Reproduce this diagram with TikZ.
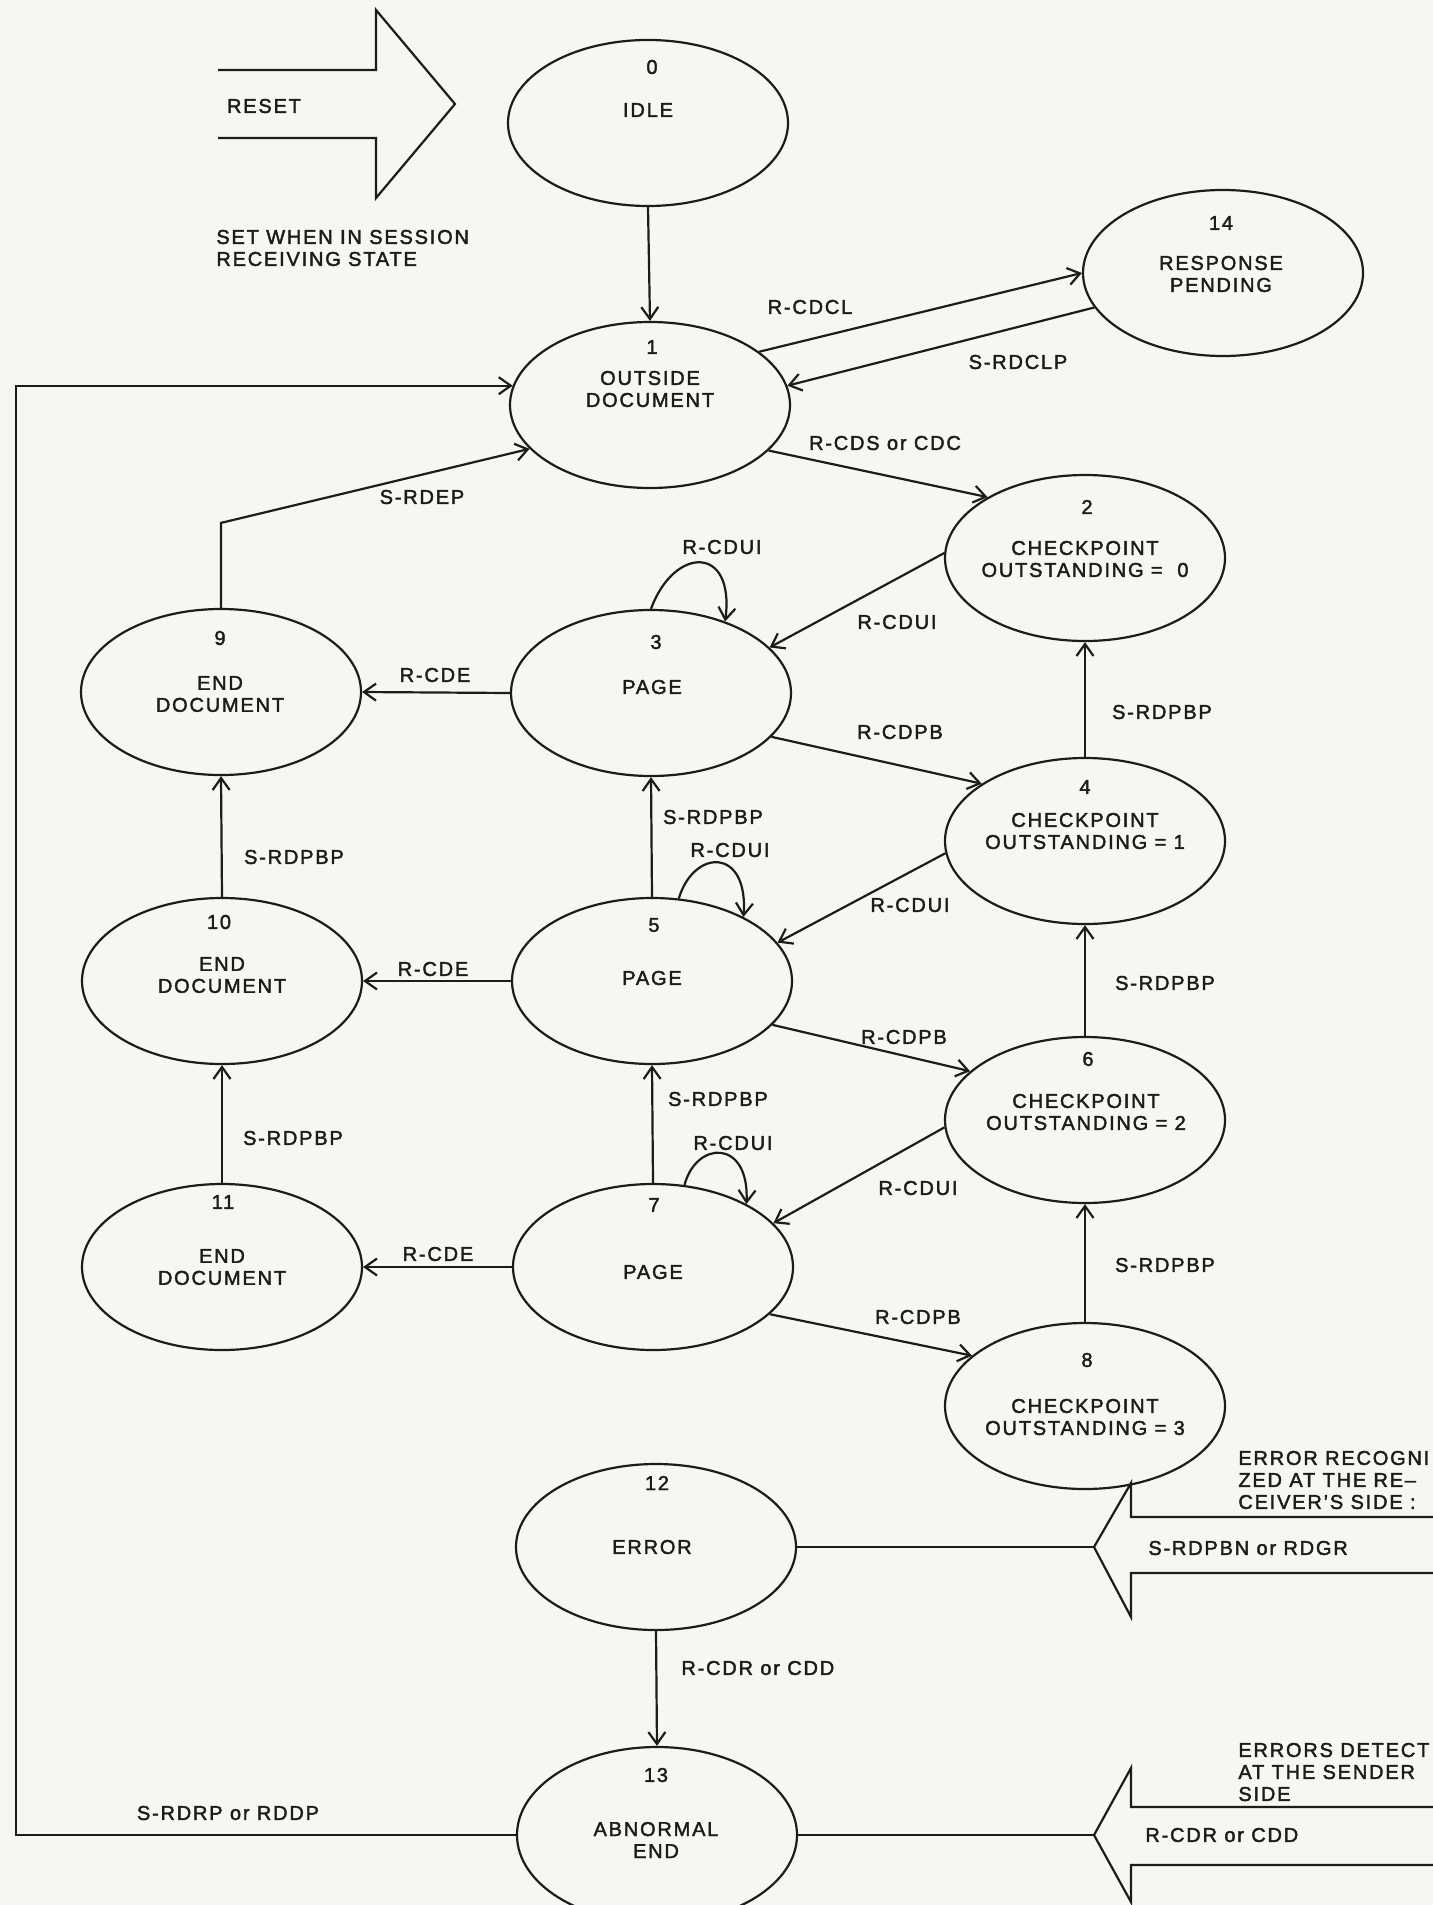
\documentclass[tikz,border=0pt]{standalone}
\usepackage{fontspec}
\setmainfont{Liberation Sans}[LetterSpace=9,FakeBold=2]
\usetikzlibrary{arrows.meta,shapes.geometric}
\definecolor{paper}{RGB}{247,246,240}
\definecolor{ink}{RGB}{28,28,28}
\newcommand\lblfont{\fontsize{10}{11}\selectfont}
\newcommand\blockfont{\fontsize{10}{11}\selectfont}
\begin{document}
\begin{tikzpicture}[x=0.5pt,y=-0.5pt,
  state/.style={draw=ink,line width=1.1pt,ellipse,minimum width=140pt,minimum height=83pt,inner sep=0pt},
  txt/.style={font=\lblfont,text=ink,inner sep=0pt,align=center},
  arr/.style={draw=ink,line width=1.1pt,-{Straight Barb[length=6pt,width=8.5pt,line width=1.1pt]}},
  ln/.style={draw=ink,line width=1.1pt},
  ]
\useasboundingbox (0,0) rectangle (1433,1905);
\fill[paper] (0,0) rectangle (1433,1905);
\clip (0,0) rectangle (1433,1905);

% ---------- states ----------
\node[state] (n0) at (648,123) {};
\node[txt] (n0a) at (652,67) {0};
\node[txt] (n0b) at (648,110) {IDLE};

\node[state] (n1) at (650,405) {};
\node[txt] (n1a) at (652,347) {1};
\node[txt] (n1b) at (650,389) {OUTSIDE\\DOCUMENT};

\node[state] (n14) at (1223,273) {};
\node[txt] (n14a) at (1221,223) {14};
\node[txt] (n14b) at (1221,274) {RESPONSE\\PENDING};

\node[state] (n2) at (1085,558) {};
\node[txt] (n2a) at (1087,507) {2};
\node[txt] (n2b) at (1085,559) {CHECKPOINT\\OUTSTANDING =\ \ 0};

\node[state] (n9) at (221,692) {};
\node[txt] (n9a) at (220,638) {9};
\node[txt] (n9b) at (220,694) {END\\DOCUMENT};

\node[state] (n3) at (651,693) {};
\node[txt] (n3a) at (656,642) {3};
\node[txt] (n3b) at (652,687) {PAGE};

\node[state] (n4) at (1085,841) {};
\node[txt] (n4a) at (1085,787) {4};
\node[txt] (n4b) at (1085,831) {CHECKPOINT\\OUTSTANDING = 1};

\node[state] (n10) at (222,981) {};
\node[txt] (n10a) at (219,922) {10};
\node[txt] (n10b) at (222,975) {END\\DOCUMENT};

\node[state] (n5) at (652,981) {};
\node[txt] (n5a) at (654,925) {5};
\node[txt] (n5b) at (652,978) {PAGE};

\node[state] (n6) at (1085,1120) {};
\node[txt] (n6a) at (1088,1059) {6};
\node[txt] (n6b) at (1086,1112) {CHECKPOINT\\OUTSTANDING = 2};

\node[state] (n11) at (222,1267) {};
\node[txt] (n11a) at (223,1202) {11};
\node[txt] (n11b) at (222,1267) {END\\DOCUMENT};

\node[state] (n7) at (653,1267) {};
\node[txt] (n7a) at (654,1205) {7};
\node[txt] (n7b) at (653,1272) {PAGE};

\node[state] (n8) at (1085,1406) {};
\node[txt] (n8a) at (1087,1360) {8};
\node[txt] (n8b) at (1085,1417) {CHECKPOINT\\OUTSTANDING = 3};

\node[state] (n12) at (656,1547) {};
\node[txt] (n12a) at (657,1483) {12};
\node[txt] (n12b) at (652,1547) {ERROR};

\node[state,minimum height=88pt] (n13) at (657,1835) {};
\node[txt] (n13a) at (656,1775) {13};
\node[txt] (n13b) at (656,1840) {ABNORMAL\\END};

% ---------- transitions ----------
\draw[arr] (n0.south) -- (n1.north);
\draw[arr] (n1.26) -- (n14.180);
\draw[arr] (n14.195) -- (n1.8);
\draw[arr] (n1.-21) -- (n2.148);
\draw[arr] (n2.178) -- (n3.21);
\draw[arr] (n3.90) .. controls +(23,-63) and +(10,-77) .. (n3.44);
\draw[arr] (n3.west) -- (n9.east);
\draw[arr] (n3.-20) -- (n4.151);
\draw[arr] (n4.north) -- (n2.south);
\draw[arr] (n9.north) -- ++(0,-85) -- (n1.200);
\draw[arr] (n5.north) -- (n3.south);
\draw[arr] (n5.72) .. controls +(15,-50) and +(5,-70) .. (n5.35);
\draw[arr] (n4.185) -- (n5.17);
\draw[arr] (n5.west) -- (n10.east);
\draw[arr] (n10.north) -- (n9.south);
\draw[arr] (n5.-20) -- (n6.157);
\draw[arr] (n6.north) -- (n4.south);
\draw[arr] (n7.north) -- (n5.south);
\draw[arr] (n7.69) .. controls +(12,-45) and +(3,-65) .. (n7.34);
\draw[arr] (n6.183) -- (n7.20);
\draw[arr] (n7.west) -- (n11.east);
\draw[arr] (n11.north) -- (n10.south);
\draw[arr] (n7.-22) -- (n8.156);
\draw[arr] (n8.north) -- (n6.south);
\draw[arr] (n12.south) -- (n13.north);
\coordinate (lb) at (16,1835);
\draw[arr] (n13.west) -- (lb) |- (n1.172);

% ---------- transition labels ----------
\node[txt] (t1) at (810,307) {R-CDCL};
\node[txt] (t2) at (1018,362) {S-RDCLP};
\node[txt] (t3) at (885,443) {R-CDS or CDC};
\node[txt] (t4) at (422,497) {S-RDEP};
\node[txt] (t5) at (722,547) {R-CDUI};
\node[txt] (t6) at (897,622) {R-CDUI};
\node[txt] (t7) at (435,675) {R-CDE};
\node[txt] (t8) at (900,732) {R-CDPB};
\node[txt] (t9) at (1162,712) {S-RDPBP};
\node[txt] (t10) at (713,817) {S-RDPBP};
\node[txt] (t11) at (730,850) {R-CDUI};
\node[txt] (t12) at (294,857) {S-RDPBP};
\node[txt] (t13) at (910,905) {R-CDUI};
\node[txt] (t14) at (433,969) {R-CDE};
\node[txt] (t15) at (1165,983) {S-RDPBP};
\node[txt] (t16) at (904,1037) {R-CDPB};
\node[txt] (t17) at (718,1099) {S-RDPBP};
\node[txt] (t18) at (733,1143) {R-CDUI};
\node[txt] (t19) at (293,1138) {S-RDPBP};
\node[txt] (t20) at (918,1188) {R-CDUI};
\node[txt] (t21) at (438,1254) {R-CDE};
\node[txt] (t22) at (1165,1265) {S-RDPBP};
\node[txt] (t23) at (918,1317) {R-CDPB};
\node[txt,anchor=west] (t24) at (681,1668) {R-CDR or CDD};
\node[txt] (t25) at (228,1813) {S-RDRP or RDDP};

% ---------- RESET arrow ----------
\draw[ln] (218,70) -- (376,70) -- (376,10) -- (455,104) -- (376,198) -- (376,138) -- (218,138);
\node[txt] (reset) at (264,106) {RESET};
\node[txt,align=left,anchor=west] (setwhen) at (216,248) {SET WHEN IN SESSION\\RECEIVING STATE};

% ---------- error arrows ----------
\coordinate (e1tip) at (1094,1547);
\draw[ln] (n12.east) -- (e1tip);
\draw[ln] (1433,1517) -- (1131,1517) -- (1131,1483) -- (e1tip) -- (1131,1617) -- (1131,1573) -- (1433,1573);
\node[txt,align=left,anchor=west,font=\blockfont] (err1) at (1238,1480) {ERROR RECOGNI\\ZED AT THE RE–\\CEIVER'S SIDE :};
\node[txt,anchor=west] (err1b) at (1148,1548) {S-RDPBN or RDGR};

\coordinate (e2tip) at (1094,1835);
\draw[ln] (n13.east) -- (e2tip);
\draw[ln] (1433,1807) -- (1131,1807) -- (1131,1768) -- (e2tip) -- (1131,1902) -- (1131,1865) -- (1433,1865);
\node[txt,align=left,anchor=west,font=\blockfont] (err2) at (1238,1772) {ERRORS DETECT\\AT THE SENDER\\SIDE};
\node[txt,anchor=west] (err2b) at (1145,1835) {R-CDR or CDD};
\end{tikzpicture}
\end{document}
